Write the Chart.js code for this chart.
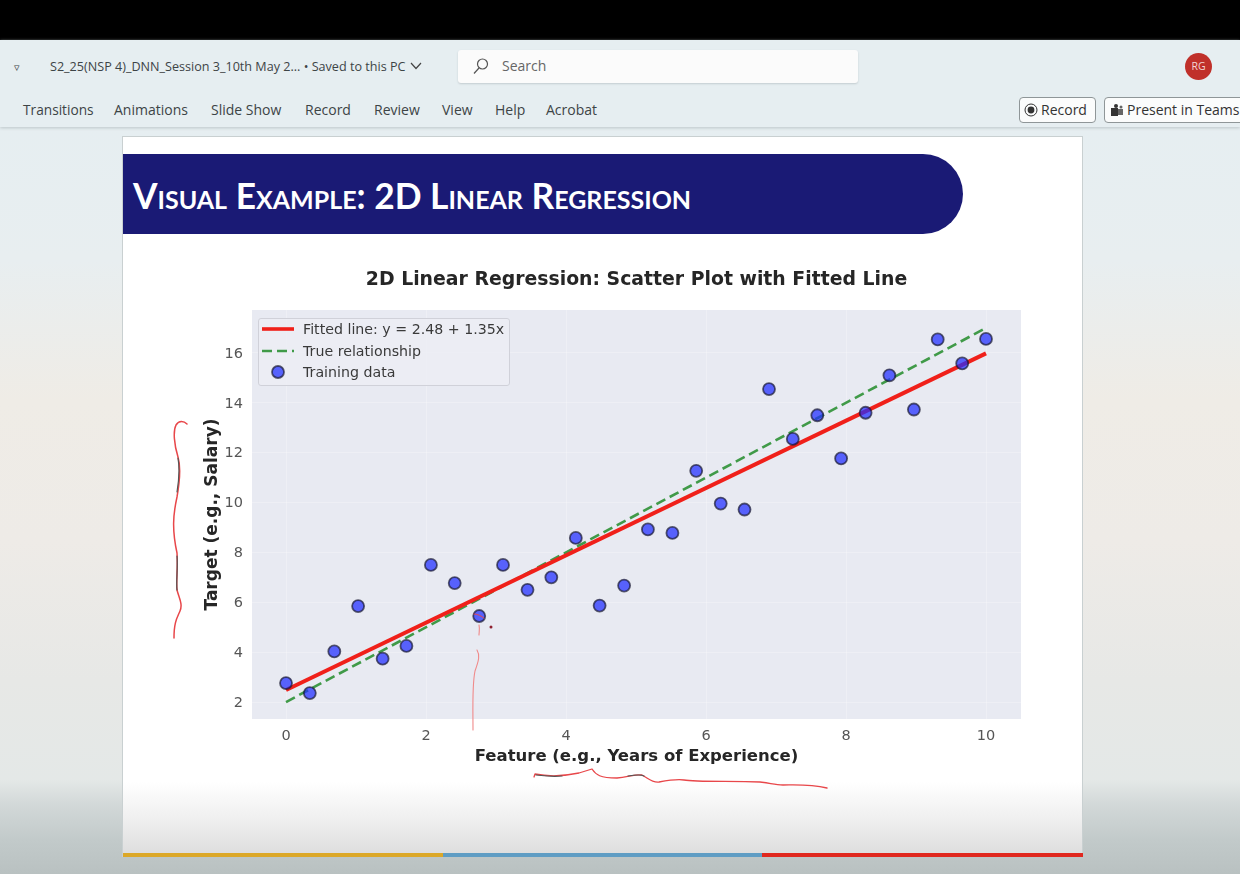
<!DOCTYPE html>
<html>
<head>
<meta charset="utf-8">
<script src="https://cdn.jsdelivr.net/npm/chart.js@4"></script>
<style>
  html, body { margin: 0; padding: 0; }
  body {
    width: 1240px; height: 874px; overflow: hidden; position: relative;
    font-family: "Open Sans", sans-serif;
    background: linear-gradient(to bottom, #e6eef1 0, #e6eef1 127px, #e8eef0 260px, #efece6 400px,
      #eeebe7 540px, #e7e8e6 680px, #e4e8e7 780px, #d2d8d8 805px, #c2caca 840px, #b9c1c1 874px);
  }
  .abs { position: absolute; white-space: nowrap; }
  #topbar { left: 0; top: 0; width: 1240px; height: 40px; background: #000; }
  #ribbonbar { left: 0; top: 40px; width: 1240px; height: 87px; background: #e6eef1; box-shadow: 0 1px 3px #bcc6c9; }
  .ui { font-size: 14px; color: #3d4446; line-height: 18px; }
  #search { left: 458px; top: 50px; width: 400px; height: 33px; background: #fbfbfb; border-radius: 3px; box-shadow: 0 1px 2px #c3ccd0; }
  #avatar { left: 1185px; top: 53px; width: 27px; height: 27px; border-radius: 50%; background: #c0302a; color: #f2d6d4; font-size: 10.5px; line-height: 27px; text-align: center; }
  .btn { top: 97px; height: 24px; line-height: 24px; border: 1px solid #8f9698; border-radius: 4px; background: #fbfcfc; font-size: 14px; color: #333; box-sizing: content-box; }
  #slide { left: 123px; top: 137px; width: 959px; height: 719px; background: linear-gradient(to bottom, #fff 0, #fff 645px, #f0f0f0 680px, #dedede 716px); box-shadow: 0 0 0 1px #c9d0d1; }
  #banner { left: 123px; top: 154px; width: 840px; height: 80px; background: #1a1a75; border-radius: 0 40px 40px 0; }
  #bannerText { left: 133px; top: 174px; color: #fff; font-family: "Lato", sans-serif; font-weight: 700; font-size: 35.3px; line-height: 44px; font-variant: small-caps; }
  .stripe { top: 853px; height: 4px; }
  #plotBox { left: 170px; top: 260px; width: 880px; height: 520px; }
  #legend { left: 258px; top: 318px; width: 250px; height: 66px; background: rgba(236,237,244,0.85); border: 1px solid #d0d1d9; border-radius: 3px; font-family: "DejaVu Sans", sans-serif; font-size: 14.2px; color: #3a3a3a; }
  .legendRow { position: absolute; left: 44px; line-height: 18px; white-space: nowrap; }
  #ink { left: 0; top: 0; pointer-events: none; }
</style>
</head>
<body>
<div class="abs" id="topbar"></div>
<div class="abs" id="ribbonbar"></div>

<div class="abs ui" style="left:14px;top:58px;font-size:11px;">&#9663;</div>
<div class="abs ui" style="left:50px;top:58px;font-size:12.6px;">S2_25(NSP 4)_DNN_Session 3_10th May 2... &#8226; Saved to this PC</div>
<svg class="abs" style="left:410px;top:62px" width="13" height="9"><path d="M1 1 L6 6.5 L11 1" fill="none" stroke="#444" stroke-width="1.2"/></svg>
<div class="abs" id="search"></div>
<svg class="abs" style="left:472px;top:57px" width="18" height="18"><circle cx="10.5" cy="7" r="5" fill="none" stroke="#555" stroke-width="1.2"/><path d="M7 11 L2 16.5" stroke="#555" stroke-width="1.2"/></svg>
<div class="abs ui" style="left:502px;top:57px;color:#666;">Search</div>
<div class="abs" id="avatar">RG</div>

<div class="abs ui" style="left:23px;top:101px;font-size:13.7px;">Transitions</div>
<div class="abs ui" style="left:114px;top:101px;">Animations</div>
<div class="abs ui" style="left:211px;top:101px;">Slide Show</div>
<div class="abs ui" style="left:305px;top:101px;">Record</div>
<div class="abs ui" style="left:374px;top:101px;">Review</div>
<div class="abs ui" style="left:442px;top:101px;">View</div>
<div class="abs ui" style="left:495px;top:101px;">Help</div>
<div class="abs ui" style="left:546px;top:101px;">Acrobat</div>

<div class="abs btn" style="left:1019px;width:75px;"><span style="position:absolute;left:21px;">Record</span>
  <svg style="position:absolute;left:4px;top:5px" width="14" height="14"><circle cx="7" cy="7" r="6" fill="none" stroke="#333"/><circle cx="7" cy="7" r="3.4" fill="#333"/></svg></div>
<div class="abs btn" style="left:1104px;width:140px;"><span style="position:absolute;left:22px;">Present in Teams</span>
  <svg style="position:absolute;left:5px;top:5px" width="14" height="14"><rect x="1" y="5" width="7" height="8" fill="#333"/><rect x="8" y="6" width="5" height="6" fill="#666"/><circle cx="6" cy="3" r="2" fill="#333"/><circle cx="11" cy="4" r="1.5" fill="#666"/></svg></div>

<div class="abs" id="slide"></div>
<div class="abs" id="banner"></div>
<div class="abs" id="bannerText">Visual Example: 2D Linear Regression</div>
<div class="abs stripe" style="left:123px;width:320px;background:#dca828;"></div>
<div class="abs stripe" style="left:443px;width:319px;background:#5f9dc4;"></div>
<div class="abs stripe" style="left:762px;width:321px;background:#e0281e;"></div>

<div class="abs" id="plotBox"><canvas id="regressionChart" width="880" height="520"></canvas></div>
<div class="abs" id="legend"></div>

<svg class="abs" id="ink" width="1240" height="874">
  <g fill="none" stroke-linecap="round" stroke-linejoin="round">
    <path d="M187 424 C184 421 179 420 176 425 C173 431 174 444 178 457 C181 467 180 480 177 497 C173 515 172 530 177 553 C178 568 176 582 177 590 C179 598 183 604 180 611 C177 618 174 622 174 638" stroke="#e8474a" stroke-width="1.5"/>
    <path d="M178 458 C180 470 179 480 177 492 M177 556 C178 570 176 580 177 590" stroke="#555" stroke-width="1.2"/>
    <path d="M534 777 L535 774 C545 776 560 777 579 773 L592 769 C596 775 600 778 617 778 C628 777 636 774 642 775 C648 778 652 783 659 782 C670 780 678 779 684 780 C695 782 730 781 760 782 C770 783 775 785 783 785 C795 785 810 784 827 788" stroke="#e8474a" stroke-width="1.3"/>
    <path d="M536 775 C545 776 552 777 562 776 M628 776 C634 775 640 774 644 776" stroke="#555" stroke-width="1.2"/>
    <path d="M479 625 C480 629 479 632 479 635 M477 650 C480 655 479 660 475 671 C472 685 473 710 473 730" stroke="#f08a8a" stroke-width="1.1"/>
    <path d="M474 614 C478 614 481 616 484 618" stroke="#e8474a" stroke-width="1"/>
  </g>
  <circle cx="491" cy="627" r="1.5" fill="#8f2030"/>
</svg>

<script>
const chartTitle = '2D Linear Regression: Scatter Plot with Fitted Line';
const xAxisTitle = 'Feature (e.g., Years of Experience)';
const yAxisTitle = 'Target (e.g., Salary)';

const xTicks = [0, 2, 4, 6, 8, 10];
const yTicks = [2, 4, 6, 8, 10, 12, 14, 16];

const featureValues = [0, 0.34, 0.69, 1.03, 1.38, 1.72, 2.07, 2.41, 2.76, 3.10,
  3.45, 3.79, 4.14, 4.48, 4.83, 5.17, 5.52, 5.86, 6.21, 6.55,
  6.90, 7.24, 7.59, 7.93, 8.28, 8.62, 8.97, 9.31, 9.66, 10];
const targetValues = [2.76, 2.36, 4.03, 5.85, 3.74, 4.25, 7.50, 6.77, 5.45, 7.50,
  6.50, 7.00, 8.58, 5.87, 6.67, 8.92, 8.78, 11.27, 9.96, 9.72,
  14.55, 12.55, 13.50, 11.77, 13.60, 15.10, 13.73, 16.54, 15.58, 16.56];

const lineEnds = [0, 10];
const fittedValues = [2.48, 15.98];
const trueValues = [2, 17];

const legendLabels = ['Fitted line: y = 2.48 + 1.35x', 'True relationship', 'Training data'];

const pair = (xs, ys) => xs.map((x, i) => ({ x, y: ys[i] }));
const tickText = '#555555';
const labelText = '#262626';
const plotFill = '#e8eaf2';
const gridColor = 'rgba(255,255,255,0.25)';
const pointFill = 'rgba(30,45,255,0.72)';
const pointEdge = 'rgba(25,25,50,0.7)';

// plot background, matplotlib seaborn style
const plotBackground = {
  id: 'plotBackground',
  beforeDraw(chart) {
    const { ctx, chartArea: a } = chart;
    ctx.save();
    ctx.fillStyle = plotFill;
    ctx.fillRect(a.left, a.top, a.width, a.height);
    ctx.restore();
  }
};

// title is centred over the axes, not over the whole canvas
const centreTitle = {
  id: 'centreTitle',
  afterLayout(chart) {
    const shift = (chart.chartArea.left + chart.chartArea.right - chart.titleBlock.left - chart.titleBlock.right) / 2;
    chart.titleBlock.left += shift;
    chart.titleBlock.right += shift;
  }
};

new Chart(document.getElementById('regressionChart').getContext('2d'), {
  type: 'scatter',
  plugins: [plotBackground, centreTitle],
  data: {
    datasets: [
      {
        label: legendLabels[2],
        data: pair(featureValues, targetValues),
        order: 1,
        backgroundColor: pointFill,
        borderColor: pointEdge,
        borderWidth: 1.8,
        pointRadius: 6
      },
      {
        label: legendLabels[0],
        data: pair(lineEnds, fittedValues),
        order: 2,
        showLine: true,
        pointRadius: 0,
        borderColor: '#f0201a',
        borderWidth: 4
      },
      {
        label: legendLabels[1],
        data: pair(lineEnds, trueValues),
        order: 3,
        showLine: true,
        pointRadius: 0,
        borderColor: '#409a48',
        borderWidth: 2.6,
        borderDash: [10, 5]
      }
    ]
  },
  options: {
    responsive: false,
    animation: false,
    layout: { padding: { right: 29 } },
    plugins: {
      legend: { display: false },
      tooltip: { enabled: false },
      title: {
        display: true,
        text: chartTitle,
        color: labelText,
        font: { family: 'DejaVu Sans', size: 18.85, weight: 'bold' },
        padding: { top: 9, bottom: 18.4 }
      }
    },
    scales: {
      x: {
        min: -0.486,
        max: 10.5,
        afterBuildTicks: s => { s.ticks = xTicks.map(value => ({ value })); },
        afterFit: s => { s.height = 61; },
        grid: { color: gridColor, lineWidth: 1, drawTicks: false },
        border: { display: false },
        ticks: { color: tickText, padding: 9, font: { family: 'DejaVu Sans', size: 14.5 } },
        title: {
          display: true,
          text: xAxisTitle,
          color: labelText,
          font: { family: 'DejaVu Sans', size: 16.5, weight: 'bold' },
          padding: { top: 0, bottom: 13 }
        }
      },
      y: {
        min: 1.32,
        max: 17.72,
        afterBuildTicks: s => { s.ticks = yTicks.map(value => ({ value })); },
        afterFit: s => { s.width = 82; },
        grid: { color: gridColor, lineWidth: 1, drawTicks: false },
        border: { display: false },
        ticks: { color: tickText, padding: 9, labelOffset: 1, font: { family: 'DejaVu Sans', size: 14.5 } },
        title: {
          display: true,
          text: yAxisTitle,
          color: labelText,
          font: { family: 'DejaVu Sans', size: 17, weight: 'bold' },
          padding: { top: 32, bottom: 0 }
        }
      }
    }
  }
});

// legend sits inside the axes, so it is built here rather than by the library
const legendSamples = [
  '<line x1="3" x2="35" y1="9" y2="9" stroke="#f0201a" stroke-width="3.6"/>',
  '<line x1="3" x2="35" y1="9" y2="9" stroke="#409a48" stroke-width="2.4" stroke-dasharray="10 5"/>',
  `<circle cx="19" cy="9" r="6" fill="${pointFill}" stroke="${pointEdge}" stroke-width="1.8"/>`
];
document.getElementById('legend').innerHTML = legendLabels.map((label, i) => `
  <svg width="38" height="18" style="position:absolute;left:0;top:${1 + i * 21.5}px">${legendSamples[i]}</svg>
  <div class="legendRow" style="top:${1 + i * 21.5}px">${label}</div>`).join('');
</script>
</body>
</html>
